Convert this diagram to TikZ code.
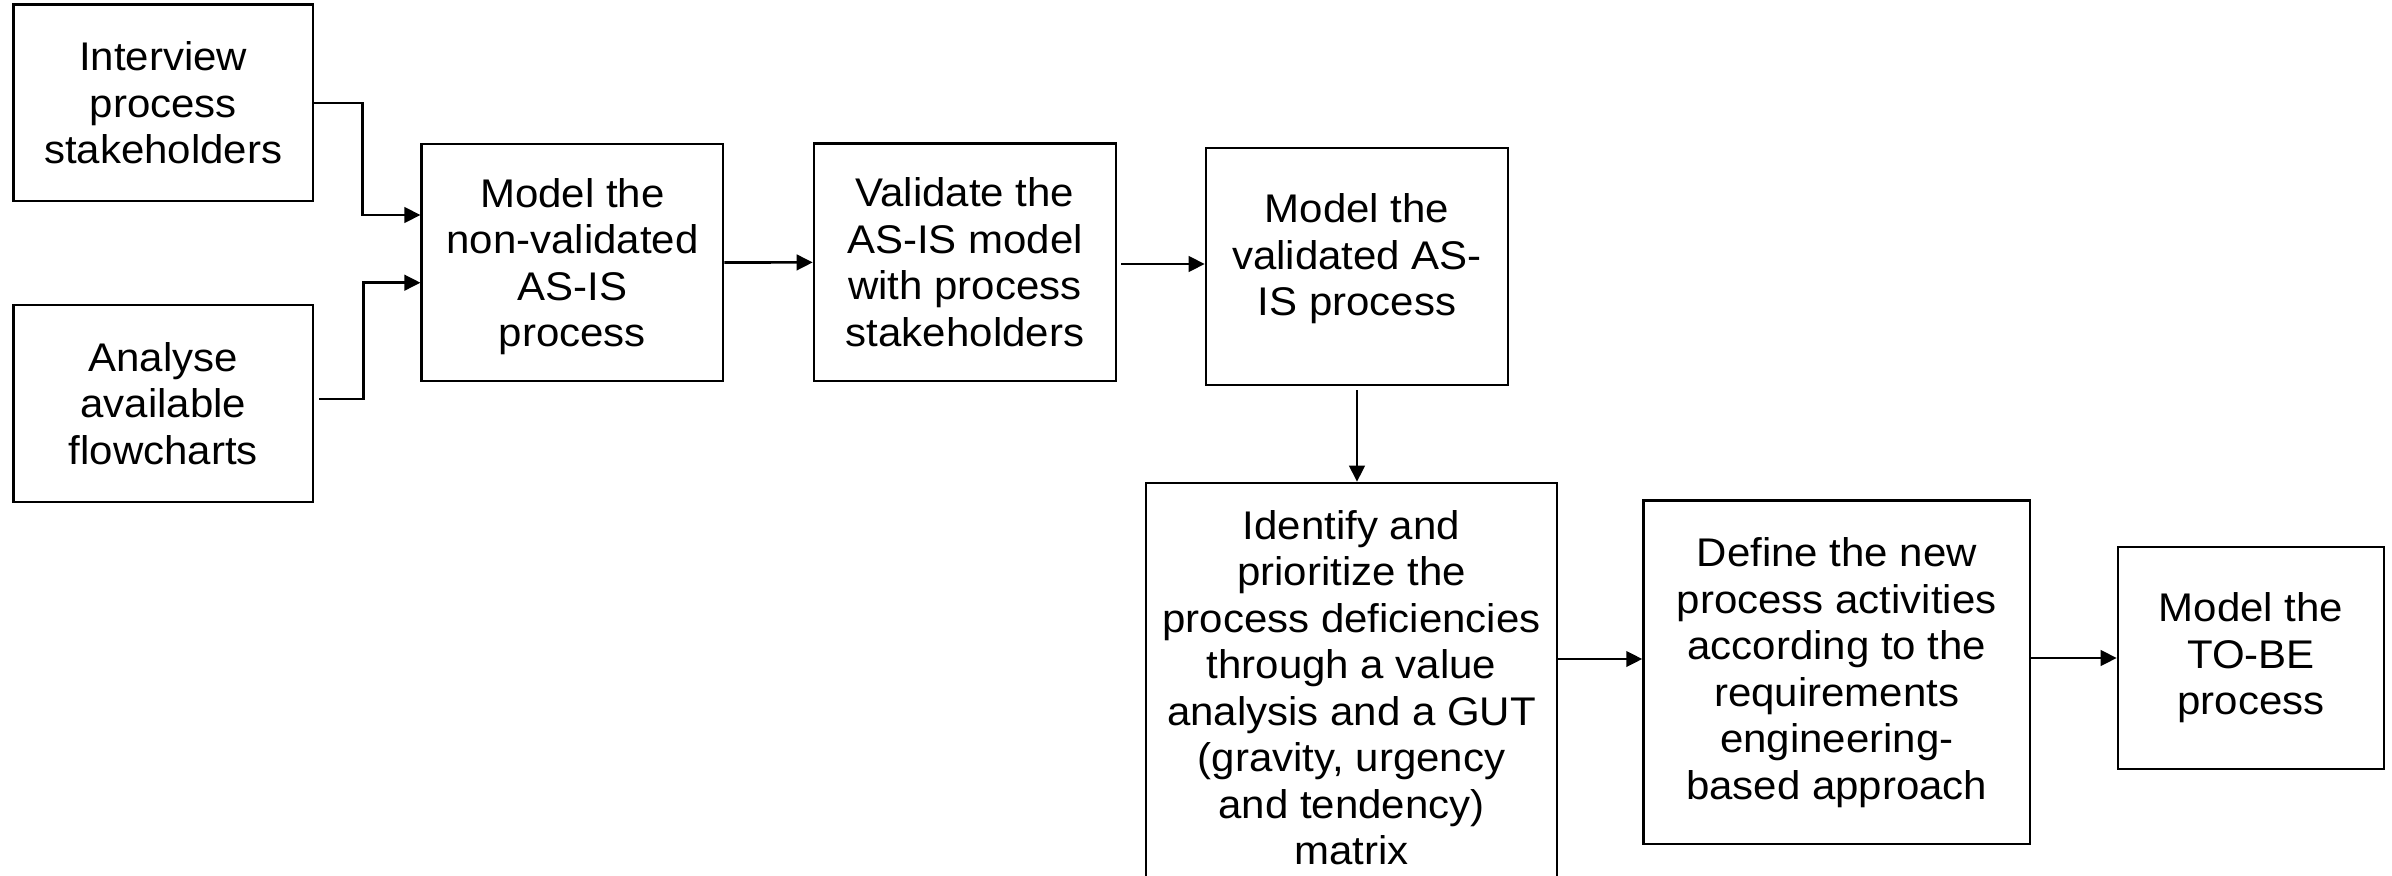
\documentclass[tikz,border=0pt]{standalone}
\usepackage{fontspec}
\setmainfont{Liberation Sans}[FakeStretch=1.05]
\usetikzlibrary{arrows.meta}
\begin{document}
\begin{tikzpicture}[x=1pt,y=-1pt,
  box/.style={draw, line width=2.6pt, align=center, inner sep=0pt,
              font=\fontsize{40}{46.5}\selectfont},
  txt/.style={align=center, inner sep=0pt, font=\fontsize{40}{46.5}\selectfont},
  arr/.style={line width=2.6pt, -{Triangle[length=16pt,width=15.5pt]}}]
\useasboundingbox (0,0) rectangle (2392,875);
\clip (0,0) rectangle (2392,875);

% inputs
\node[box, minimum width=299.4pt, minimum height=196.3pt] (int) at (163.3,102.9)
  {Interview\\process\\stakeholders};
\node[box, minimum width=299.4pt, minimum height=197pt] (ana) at (163.3,403.5)
  {Analyse\\available\\flowcharts};

% AS-IS chain
\node[box, minimum width=301.3pt, minimum height=237pt] (nv) at (572.4,262.5) {};
\node[txt] (nvt) at (572.4,266.5) {Model the\\non-validated\\AS-IS\\process};
\node[box, minimum width=302pt, minimum height=237.3pt] (val) at (965,262.4)
  {Validate the\\AS-IS model\\with process\\stakeholders};
\node[box, minimum width=302pt, minimum height=237pt] (vd) at (1357,266.5) {};
\node[txt] (vdt) at (1357,259) {Model the\\validated AS-\\IS process};

% TO-BE chain
\node[box, minimum width=411pt, minimum height=409pt] (id) at (1351.5,687.5)
  {Identify and\\prioritize the\\process deficiencies\\through a value\\analysis and a GUT\\(gravity, urgency\\and tendency)\\matrix};
\node[box, minimum width=386.5pt, minimum height=343.3pt] (def) at (1836.8,672.4)
  {Define the new\\process activities\\according to the\\requirements\\engineering-\\based approach};
\node[box, minimum width=266pt, minimum height=222pt] (tobe) at (2251,658)
  {Model the\\TO-BE\\process};

% connectors
\draw[arr] (int.east) -- ++(48,0) |- ([yshift=47.5pt]nv.west);
\draw[arr] ([xshift=5pt,yshift=4.5pt]ana.east) -- ++(44,0) |- ([yshift=-20.2pt]nv.west);
\draw[arr] (nv.east) -- (val.west);
\draw[arr] ([xshift=4pt,yshift=-1.6pt]val.east) -- ([yshift=-1.6pt]val.east -| vd.west);
\draw[arr] ([yshift=-4pt]vd.south) -- (vd.south |- id.north);
\draw[arr] ([yshift=28.5pt]id.east) -- ([yshift=28.5pt]id.east -| def.west);
\draw[arr] (tobe.west -| def.east) -- (tobe.west);
\end{tikzpicture}
\end{document}
